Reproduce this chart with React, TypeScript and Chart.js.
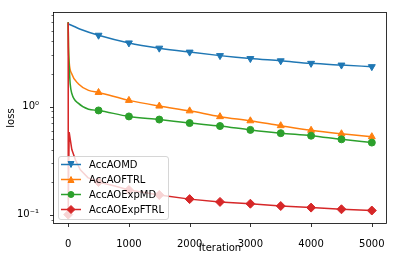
import React, { useEffect, useRef } from 'react';
import { Chart, registerables } from 'chart.js';

Chart.register(...registerables);

const xTickValues = [0, 1000, 2000, 3000, 4000, 5000];
const yMajorTicks = [0.1, 1];
const yMinorTicks = [0.09, 0.2, 0.3, 0.4, 0.5, 0.6, 0.7, 0.8, 0.9, 2, 3, 4, 5, 6, 7];
const yTickLabels: Record<string, string> = { '0.1': '10⁻¹', '1': '10⁰' };

const markerIters = [500, 1000, 1500, 2000, 2500, 3000, 3500, 4000, 4500, 5000];

const aomdIters = [0, 100, 200, 500, 1000, 1500, 2000, 2500, 3000, 3500, 4000, 4500, 5000];
const aomdVals = [5.83, 5.5, 5.2, 4.57, 3.88, 3.47, 3.19, 2.96, 2.78, 2.65, 2.51, 2.42, 2.34];

const aoftrlIters = [0, 5, 16, 60, 170, 335, 500, 1000, 1500, 2000, 2500, 3000, 3500, 4000, 4500, 5000];
const aoftrlVals = [6.0, 3.5, 2.6, 2.0, 1.62, 1.41, 1.35, 1.14, 1.01, 0.912, 0.806, 0.738, 0.665, 0.603, 0.56, 0.526];

const expmdIters = [0, 5, 16, 33, 60, 170, 335, 500, 1000, 1500, 2000, 2500, 3000, 3500, 4000, 4500, 5000];
const expmdVals = [6.05, 3.6, 2.4, 1.62, 1.32, 1.07, 0.945, 0.92, 0.81, 0.758, 0.703, 0.66, 0.608, 0.567, 0.537, 0.497, 0.464];

const expftrlIters = [0, 1, 16, 60, 120, 200, 324, 500, 768, 1000, 1500, 2000, 2500, 3000, 3500, 4000, 4500, 5000];
const expftrlVals = [6.0, 0.1, 0.58, 0.4, 0.32, 0.26, 0.22, 0.2, 0.184, 0.169, 0.152, 0.139, 0.131, 0.126, 0.12, 0.116, 0.112, 0.109];
const expftrlMarkers = [1, ...markerIters];

const seriesLabels = ['AccAOMD', 'AccAOFTRL', 'AccAOExpMD', 'AccAOExpFTRL'];
const seriesColors = ['#1f77b4', '#ff7f0e', '#2ca02c', '#d62728'];
const seriesShapes = ['tri-down', 'tri-up', 'circle', 'diamond'];

const FONT = "'DejaVu Sans', sans-serif";

function drawMarker(ctx: CanvasRenderingContext2D, shape: string, x: number, y: number, color: string) {
  ctx.save();
  ctx.fillStyle = color;
  ctx.strokeStyle = color;
  ctx.lineWidth = 1;
  ctx.beginPath();
  if (shape === 'circle') {
    ctx.arc(x, y, 3, 0, Math.PI * 2);
  } else if (shape === 'diamond') {
    const r = 4;
    ctx.moveTo(x, y - r);
    ctx.lineTo(x + r, y);
    ctx.lineTo(x, y + r);
    ctx.lineTo(x - r, y);
    ctx.closePath();
  } else if (shape === 'tri-up') {
    ctx.moveTo(x, y - 3);
    ctx.lineTo(x + 3, y + 3);
    ctx.lineTo(x - 3, y + 3);
    ctx.closePath();
  } else {
    ctx.moveTo(x, y + 3);
    ctx.lineTo(x + 3, y - 3);
    ctx.lineTo(x - 3, y - 3);
    ctx.closePath();
  }
  ctx.fill();
  ctx.stroke();
  ctx.restore();
}

const mplPlugin = {
  id: 'mplAxes',
  afterDatasetsDraw(chart: any) {
    const { ctx, chartArea: a, scales } = chart;
    const xs = scales.x;
    const ys = scales.y;
    ctx.save();
    ctx.strokeStyle = '#000';
    ctx.lineWidth = 0.8;
    const L = Math.round(a.left) + 0.5;
    const R = Math.round(a.right) - 0.5;
    const T = Math.round(a.top) + 0.5;
    const B = Math.round(a.bottom) - 0.5;
    ctx.strokeRect(L, T, R - L, B - T);
    ctx.beginPath();
    for (const v of xTickValues) {
      const px = Math.round(xs.getPixelForValue(v)) + 0.5;
      ctx.moveTo(px, B);
      ctx.lineTo(px, B + 3.5);
    }
    for (const v of yMajorTicks) {
      const py = Math.round(ys.getPixelForValue(v)) + 0.5;
      ctx.moveTo(L, py);
      ctx.lineTo(L - 3.5, py);
    }
    ctx.stroke();
    ctx.lineWidth = 0.6;
    ctx.beginPath();
    for (const v of yMinorTicks) {
      const py = Math.round(ys.getPixelForValue(v)) + 0.5;
      if (py < a.top || py > a.bottom) continue;
      ctx.moveTo(L, py);
      ctx.lineTo(L - 2, py);
    }
    ctx.stroke();

    // legend
    const bx = a.left + 5;
    const bw = 110;
    const bh = 63;
    const by = a.bottom - 5 - bh;
    ctx.beginPath();
    if ((ctx as any).roundRect) (ctx as any).roundRect(bx + 0.5, by + 0.5, bw, bh, 2.5);
    else ctx.rect(bx + 0.5, by + 0.5, bw, bh);
    ctx.fillStyle = 'rgba(255,255,255,0.8)';
    ctx.fill();
    ctx.strokeStyle = 'rgba(204,204,204,0.8)';
    ctx.lineWidth = 1;
    ctx.stroke();
    ctx.font = `10px ${FONT}`;
    ctx.textBaseline = 'middle';
    ctx.textAlign = 'left';
    seriesLabels.forEach((lab, i) => {
      const cy = by + 8.5 + i * 15;
      ctx.strokeStyle = seriesColors[i];
      ctx.lineWidth = 1.5;
      ctx.beginPath();
      ctx.moveTo(bx + 3, cy);
      ctx.lineTo(bx + 23, cy);
      ctx.stroke();
      drawMarker(ctx, seriesShapes[i], bx + 13, cy, seriesColors[i]);
      ctx.fillStyle = '#000';
      ctx.fillText(lab, bx + 31, cy + 0.5);
    });
    ctx.restore();
  },
};

function makeData(iters: number[], vals: number[]) {
  return iters.map((x, i) => ({ x, y: vals[i] }));
}

export default function App() {
  const ref = useRef<HTMLCanvasElement | null>(null);
  useEffect(() => {
    if (!ref.current) return;
    Chart.defaults.font.family = FONT;
    Chart.defaults.font.size = 10;
    Chart.defaults.color = '#000';
    const iterSets = [aomdIters, aoftrlIters, expmdIters, expftrlIters];
    const valSets = [aomdVals, aoftrlVals, expmdVals, expftrlVals];
    const markerSets = [markerIters, markerIters, markerIters, expftrlMarkers];
    const styles = ['triangle', 'triangle', 'circle', 'rectRot'];
    const rotations = [180, 0, 0, 0];
    const radii = [4, 4, 3.5, 4.5];
    const datasets = seriesLabels.map((label, i) => ({
      label,
      data: makeData(iterSets[i], valSets[i]),
      borderColor: seriesColors[i],
      backgroundColor: seriesColors[i],
      borderWidth: 1.5,
      tension: 0,
      cubicInterpolationMode: i < 3 ? 'monotone' : 'default',
      order: 4 - i,
      pointStyle: styles[i],
      rotation: rotations[i],
      pointBorderWidth: 1,
      pointRadius: (ctx: any) => (ctx.raw && markerSets[i].includes(ctx.raw.x) ? radii[i] : 0),
      pointHoverRadius: 0,
    }));
    const chart = new Chart(ref.current, {
      type: 'line',
      data: { datasets },
      plugins: [mplPlugin],
      options: {
        animation: false,
        responsive: false,
        devicePixelRatio: 1,
        layout: { padding: { top: 6, right: 7, left: 0, bottom: 0 } },
        plugins: { legend: { display: false }, tooltip: { enabled: false } },
        scales: {
          x: {
            type: 'linear',
            min: -250,
            max: 5250,
            grid: { display: false },
            border: { display: false },
            afterBuildTicks: (s: any) => {
              s.ticks = xTickValues.map((value) => ({ value }));
            },
            afterFit: (s: any) => {
              s.height = 38;
            },
            ticks: {
              padding: 6,
              maxRotation: 0,
              autoSkip: false,
              color: '#000',
              font: { size: 10, family: FONT },
              callback: (v: any) => String(v),
            },
            title: {
              display: true,
              text: 'Iteration',
              color: '#000',
              font: { size: 10, family: FONT },
              padding: { top: 0, bottom: 8 },
            },
          },
          y: {
            type: 'logarithmic',
            min: 0.0818,
            max: 7.5,
            grid: { display: false },
            border: { display: false },
            afterBuildTicks: (s: any) => {
              s.ticks = yMajorTicks.map((value) => ({ value }));
            },
            afterFit: (s: any) => {
              s.width = 53;
            },
            ticks: {
              padding: 6,
              autoSkip: false,
              color: '#000',
              font: { size: 10, family: FONT },
              callback: (v: any) => yTickLabels[String(v)] ?? '',
            },
            title: {
              display: true,
              text: 'loss',
              color: '#000',
              font: { size: 10, family: FONT },
              padding: { top: 5, bottom: 0 },
            },
          },
        },
      },
    } as any);
    return () => chart.destroy();
  }, []);
  return (
    <div style={{ position: 'absolute', left: 0, top: 0, width: 394, height: 262, background: '#fff' }}>
      <canvas ref={ref} width={394} height={262} style={{ width: 394, height: 262, display: 'block' }} />
    </div>
  );
}
